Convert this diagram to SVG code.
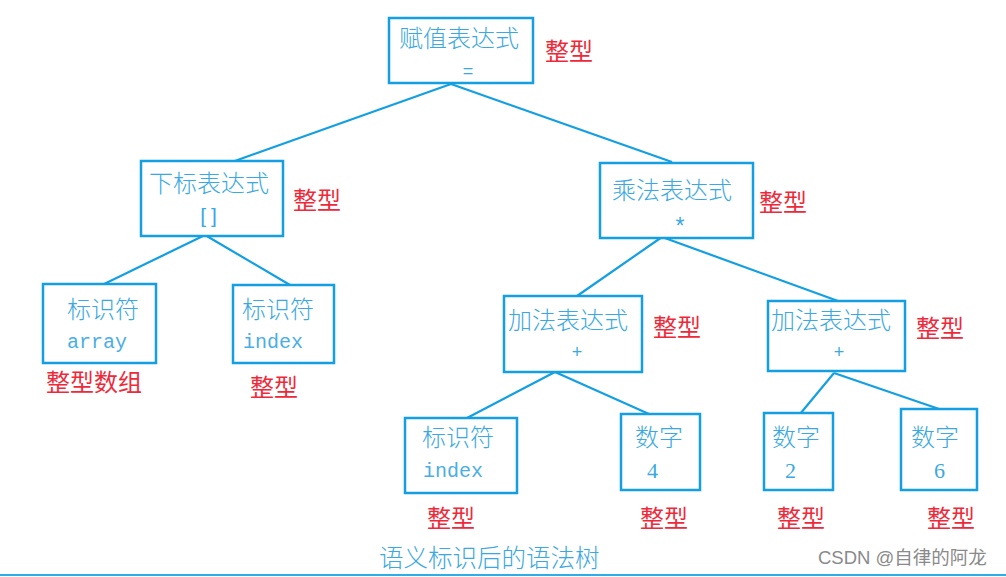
<svg xmlns="http://www.w3.org/2000/svg" width="1006" height="577" viewBox="0 0 1006 577">
<style>
.box{fill:#fff;stroke:#139fe2;stroke-width:2.5}
.edge{stroke:#139fe2;stroke-width:2.2;fill:none}
.cn{font-family:"Noto Sans CJK SC","Noto Sans",sans-serif;font-size:24px;font-weight:300;fill:#3aa8e2}
.mono{font-family:"Liberation Mono","DejaVu Sans Mono",monospace;font-size:20px;fill:#4aaee4}
.num{font-family:"Liberation Serif",serif;font-size:22px;fill:#3aa8e2}
.op{font-family:"Liberation Sans",sans-serif;font-size:18px;fill:#3aa8e2;text-anchor:middle}
.type{font-family:"Noto Sans CJK SC",sans-serif;font-size:24px;fill:#ee2a3a}
.cap{font-family:"Noto Sans CJK SC",sans-serif;font-size:24.5px;font-weight:300;fill:#3aa8e2}
.csdn{font-family:"Liberation Sans","Noto Sans CJK SC",sans-serif;font-size:18.5px;fill:#8a8a8a}
</style>
<rect width="1006" height="577" fill="#fff"/>
<g id="connectors">
<line class="edge" x1="451" y1="84" x2="232" y2="162"/>
<line class="edge" x1="451" y1="84" x2="672" y2="162"/>
<line class="edge" x1="205" y1="235" x2="100" y2="286"/>
<line class="edge" x1="205" y1="235" x2="290" y2="285"/>
<line class="edge" x1="662" y1="237" x2="577" y2="296"/>
<line class="edge" x1="662" y1="237" x2="838" y2="301"/>
<line class="edge" x1="555" y1="372" x2="467" y2="418"/>
<line class="edge" x1="555" y1="372" x2="649" y2="414"/>
<line class="edge" x1="834" y1="373" x2="800" y2="414"/>
<line class="edge" x1="834" y1="373" x2="942" y2="410"/>
</g>
<g id="n-assign">
<rect class="box" x="389" y="18" width="144" height="65"/>
<text class="cn" x="399" y="47">赋值表达式</text>
<text class="op" x="468" y="77">=</text>
<text class="type" x="545" y="60">整型</text>
</g>
<g id="n-index">
<rect class="box" x="141" y="161" width="142" height="75"/>
<text class="cn" x="149" y="192">下标表达式</text>
<text class="op" x="211" y="223" style="font-size:21px;letter-spacing:5px">[]</text>
<text class="type" x="293" y="209">整型</text>
</g>
<g id="n-mul">
<rect class="box" x="600" y="163" width="153" height="75"/>
<text class="cn" x="612" y="199">乘法表达式</text>
<text class="op" x="680" y="234" style="font-size:23px">*</text>
<text class="type" x="759" y="211">整型</text>
</g>
<g id="n-array">
<rect class="box" x="43" y="284" width="113" height="79"/>
<text class="cn" x="67" y="318">标识符</text>
<text class="mono" x="67" y="348">array</text>
<text class="type" x="46" y="391">整型数组</text>
</g>
<g id="n-idx1">
<rect class="box" x="233" y="285" width="101" height="78"/>
<text class="cn" x="242" y="318">标识符</text>
<text class="mono" x="243" y="348">index</text>
<text class="type" x="250" y="396">整型</text>
</g>
<g id="n-add1">
<rect class="box" x="504" y="296" width="138" height="76"/>
<text class="cn" x="508" y="329">加法表达式</text>
<text class="op" x="577" y="358">+</text>
<text class="type" x="653" y="336">整型</text>
</g>
<g id="n-add2">
<rect class="box" x="768" y="301" width="137" height="70"/>
<text class="cn" x="771" y="329">加法表达式</text>
<text class="op" x="839" y="358">+</text>
<text class="type" x="916" y="337">整型</text>
</g>
<g id="n-idx2">
<rect class="box" x="405" y="418" width="112" height="75"/>
<text class="cn" x="422" y="446">标识符</text>
<text class="mono" x="423" y="477">index</text>
<text class="type" x="427" y="527">整型</text>
</g>
<g id="n-4">
<rect class="box" x="621" y="414" width="79" height="76"/>
<text class="cn" x="635" y="446">数字</text>
<text class="num" x="647" y="478">4</text>
<text class="type" x="640" y="527">整型</text>
</g>
<g id="n-2">
<rect class="box" x="764" y="413" width="69" height="77"/>
<text class="cn" x="772" y="446">数字</text>
<text class="num" x="785" y="478">2</text>
<text class="type" x="777" y="527">整型</text>
</g>
<g id="n-6">
<rect class="box" x="901" y="409" width="76" height="81"/>
<text class="cn" x="911" y="446">数字</text>
<text class="num" x="934" y="478">6</text>
<text class="type" x="927" y="527">整型</text>
</g>
<text class="cap" x="379" y="567">语义标识后的语法树</text>
<text class="csdn" x="818" y="564">CSDN @自律的阿龙</text>
<line x1="0" y1="575" x2="1006" y2="575" stroke="#2eaee8" stroke-width="2"/>
</svg>
